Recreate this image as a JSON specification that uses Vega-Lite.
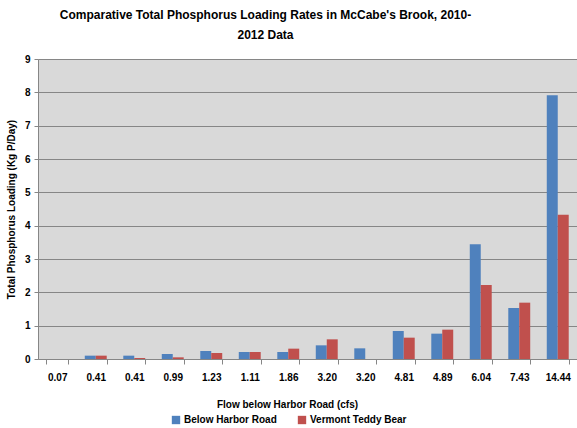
{
  "$schema": "https://vega.github.io/schema/vega-lite/v6.json",
  "autosize": {"type": "none"},
  "width": 539,
  "height": 300,
  "padding": {"left": 38, "top": 59, "right": 0, "bottom": 69},
  "background": "white",
  "title": {
    "text": ["Comparative Total Phosphorus Loading Rates in McCabe's Brook, 2010-", "2012 Data"],
    "font": "Liberation Sans",
    "fontSize": 12,
    "fontWeight": "bold",
    "lineHeight": 20,
    "anchor": "middle",
    "dx": -42,
    "offset": 12,
    "color": "black"
  },
  "data": {
    "values": [
      {"flow": "0.07", "site": "Below Harbor Road", "load": 0},
      {"flow": "0.07", "site": "Vermont Teddy Bear", "load": 0},
      {"flow": "0.41", "site": "Below Harbor Road", "load": 0.1},
      {"flow": "0.41", "site": "Vermont Teddy Bear", "load": 0.1},
      {"flow": "0.41 ", "site": "Below Harbor Road", "load": 0.1},
      {"flow": "0.41 ", "site": "Vermont Teddy Bear", "load": 0.03},
      {"flow": "0.99", "site": "Below Harbor Road", "load": 0.15},
      {"flow": "0.99", "site": "Vermont Teddy Bear", "load": 0.05},
      {"flow": "1.23", "site": "Below Harbor Road", "load": 0.24},
      {"flow": "1.23", "site": "Vermont Teddy Bear", "load": 0.18},
      {"flow": "1.11", "site": "Below Harbor Road", "load": 0.21},
      {"flow": "1.11", "site": "Vermont Teddy Bear", "load": 0.21},
      {"flow": "1.86", "site": "Below Harbor Road", "load": 0.21},
      {"flow": "1.86", "site": "Vermont Teddy Bear", "load": 0.31},
      {"flow": "3.20", "site": "Below Harbor Road", "load": 0.41},
      {"flow": "3.20", "site": "Vermont Teddy Bear", "load": 0.59},
      {"flow": "3.20 ", "site": "Below Harbor Road", "load": 0.32},
      {"flow": "3.20 ", "site": "Vermont Teddy Bear", "load": 0},
      {"flow": "4.81", "site": "Below Harbor Road", "load": 0.84},
      {"flow": "4.81", "site": "Vermont Teddy Bear", "load": 0.64},
      {"flow": "4.89", "site": "Below Harbor Road", "load": 0.76},
      {"flow": "4.89", "site": "Vermont Teddy Bear", "load": 0.88},
      {"flow": "6.04", "site": "Below Harbor Road", "load": 3.44},
      {"flow": "6.04", "site": "Vermont Teddy Bear", "load": 2.22},
      {"flow": "7.43", "site": "Below Harbor Road", "load": 1.53},
      {"flow": "7.43", "site": "Vermont Teddy Bear", "load": 1.69},
      {"flow": "14.44", "site": "Below Harbor Road", "load": 7.91},
      {"flow": "14.44", "site": "Vermont Teddy Bear", "load": 4.33}
    ]
  },
  "mark": {"type": "bar"},
  "encoding": {
    "x": {
      "field": "flow",
      "type": "nominal",
      "sort": null,
      "scale": {"paddingInner": 0.43, "paddingOuter": 0.215},
      "axis": {
        "title": "Flow below Harbor Road (cfs)",
        "labelAngle": 0,
        "labelExpr": "isString(datum.value) ? trim(datum.value) : ''",
        "labelFont": "Liberation Sans",
        "labelFontSize": 10,
        "labelFontWeight": "bold",
        "labelColor": "black",
        "labelPadding": 8,
        "titleFont": "Liberation Sans",
        "titleFontSize": 10,
        "titleFontWeight": "bold",
        "titleColor": "black",
        "titlePadding": 8,
        "titleX": 249,
        "titleY": 40,
        "domainColor": "#868686",
        "tickColor": "#868686",
        "tickBand": "extent",
        "tickSize": 5,
        "grid": false
      }
    },
    "xOffset": {"field": "site", "type": "nominal", "sort": ["Below Harbor Road", "Vermont Teddy Bear"]},
    "y": {
      "field": "load",
      "type": "quantitative",
      "scale": {"domain": [0, 9], "nice": false},
      "axis": {
        "title": "Total Phosphorus Loading (Kg P/Day)",
        "values": [0, 1, 2, 3, 4, 5, 6, 7, 8, 9],
        "labelFont": "Liberation Sans",
        "labelFontSize": 10,
        "labelFontWeight": "bold",
        "labelColor": "black",
        "labelPadding": 4,
        "titleFont": "Liberation Sans",
        "titleFontSize": 10,
        "titleFontWeight": "bold",
        "titleColor": "black",
        "titlePadding": 8,
        "gridColor": "#868686",
        "gridOpacity": 1,
        "domainColor": "#868686",
        "tickColor": "#868686",
        "tickSize": 4
      }
    },
    "color": {
      "field": "site",
      "type": "nominal",
      "scale": {"domain": ["Below Harbor Road", "Vermont Teddy Bear"], "range": ["#4F81BD", "#C0504D"]},
      "legend": {
        "title": null,
        "orient": "none",
        "direction": "horizontal",
        "legendX": 133,
        "legendY": 356,
        "symbolType": "square",
        "symbolSize": 70,
        "symbolOpacity": 1,
        "labelFont": "Liberation Sans",
        "labelFontSize": 10,
        "labelFontWeight": "bold",
        "labelColor": "black",
        "columnPadding": 20,
        "labelOffset": 3
      }
    }
  },
  "config": {
    "view": {"fill": "#D9D9D9", "stroke": "#000000", "strokeWidth": 0},
    "axis": {"domainWidth": 1}
  }
}
